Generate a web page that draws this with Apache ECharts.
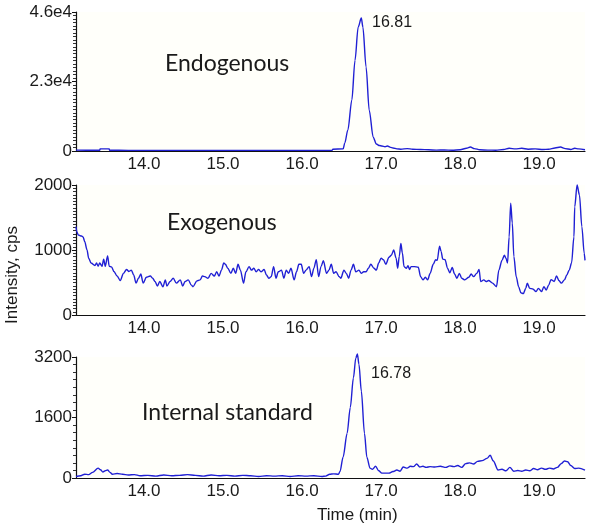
<!DOCTYPE html>
<html>
<head>
<meta charset="utf-8">
<script src="https://cdn.jsdelivr.net/npm/echarts@6/dist/echarts.min.js"></script>
<style>html,body{margin:0;padding:0;background:#fff}#c{width:600px;height:530px}</style>
</head>
<body>
<div id="c"></div>
<script>
// ---- Data ----
var xTickLabels = [14, 15, 16, 17, 18, 19];

// Endogenous (top panel)
var endoTime = [13.14,13.30,13.44,13.445,13.56,13.565,13.80,14.50,15.50,16.38,16.39,16.52,16.54,16.58,16.63,16.67,16.71,16.75,16.77,16.81,16.85,16.90,16.94,16.98,17.01,17.05,17.08,17.12,17.15,17.20,17.25,17.33,17.40,17.50,17.60,17.70,17.80,17.90,18.00,18.08,18.13,18.18,18.25,18.35,18.45,18.55,18.62,18.70,18.78,18.86,18.95,19.05,19.12,19.20,19.27,19.33,19.40,19.45,19.50,19.58];
var endoIntensity = [300,250,250,700,700,250,200,200,200,200,600,700,2600,7000,16900,30000,41000,44000,41000,27800,13500,4600,2300,1800,1650,1400,1650,1200,1000,700,600,800,600,500,400,300,350,250,400,900,1300,800,400,300,250,500,900,700,900,600,700,500,600,1000,1300,800,500,900,700,400];

// Exogenous (middle panel)
var exoTime = [13.14,13.15,13.17,13.21,13.23,13.25,13.28,13.30,13.33,13.38,13.40,13.42,13.44,13.47,13.49,13.51,13.54,13.56,13.59,13.62,13.66,13.70,13.74,13.78,13.81,13.84,13.87,13.90,13.93,13.96,13.99,14.03,14.08,14.11,14.14,14.17,14.20,14.24,14.27,14.29,14.33,14.37,14.41,14.46,14.49,14.52,14.56,14.60,14.62,14.67,14.71,14.74,14.77,14.81,14.85,14.89,14.92,14.95,14.98,15.01,15.03,15.06,15.10,15.13,15.16,15.19,15.22,15.26,15.29,15.33,15.36,15.39,15.42,15.45,15.48,15.52,15.55,15.58,15.61,15.64,15.67,15.70,15.74,15.77,15.80,15.83,15.86,15.90,15.93,15.96,15.99,16.02,16.05,16.09,16.12,16.15,16.18,16.21,16.24,16.27,16.31,16.34,16.37,16.40,16.43,16.47,16.49,16.53,16.56,16.59,16.62,16.65,16.68,16.72,16.75,16.78,16.81,16.84,16.87,16.91,16.94,16.97,17.00,17.03,17.06,17.10,17.13,17.16,17.19,17.21,17.23,17.25,17.27,17.29,17.32,17.34,17.36,17.38,17.42,17.47,17.50,17.53,17.56,17.59,17.62,17.66,17.69,17.71,17.74,17.76,17.78,17.81,17.84,17.87,17.90,17.93,17.96,17.99,18.02,18.06,18.11,18.14,18.17,18.21,18.24,18.26,18.30,18.33,18.36,18.41,18.46,18.49,18.53,18.56,18.58,18.60,18.62,18.64,18.66,18.68,18.71,18.74,18.77,18.80,18.83,18.85,18.88,18.92,18.96,18.99,19.03,19.06,19.09,19.12,19.15,19.19,19.22,19.25,19.28,19.32,19.35,19.38,19.41,19.44,19.45,19.48,19.51,19.54,19.57,19.58];
var exoIntensity = [1360,1280,1230,1215,1200,1130,1000,875,800,760,800,750,800,750,860,750,910,750,740,670,600,530,640,700,670,690,615,490,565,630,490,580,600,565,515,445,515,435,540,445,515,565,490,540,445,515,540,460,435,525,540,600,590,565,640,600,665,600,690,800,780,720,640,720,640,780,690,490,665,745,690,720,665,700,665,700,615,565,590,745,565,665,690,565,690,640,720,540,665,780,780,640,690,745,590,720,850,590,745,835,640,690,780,640,665,590,565,690,640,565,690,780,665,690,640,665,665,720,780,720,690,800,875,850,780,890,920,1000,875,720,900,1100,950,745,720,760,700,745,745,735,590,540,580,540,640,780,850,840,1060,975,860,850,720,650,730,630,565,640,565,540,580,630,590,640,700,515,540,515,530,490,435,690,840,920,875,800,1200,1720,1415,900,590,435,340,330,410,490,410,400,360,410,360,435,385,460,545,515,600,530,490,540,615,690,800,1200,1665,2000,1845,1360,950,840];

// Internal standard (bottom panel)
var isTime = [13.14,13.20,13.25,13.30,13.35,13.42,13.45,13.48,13.51,13.54,13.57,13.60,13.66,13.73,13.80,13.88,13.95,14.05,14.15,14.25,14.35,14.45,14.55,14.65,14.75,14.85,14.95,15.05,15.15,15.25,15.35,15.45,15.55,15.65,15.75,15.85,15.95,16.05,16.15,16.25,16.30,16.35,16.40,16.46,16.48,16.52,16.57,16.61,16.65,16.68,16.70,16.72,16.75,16.79,16.82,16.86,16.89,16.93,16.97,17.01,17.10,17.15,17.20,17.24,17.28,17.33,17.37,17.41,17.45,17.49,17.53,17.57,17.62,17.68,17.75,17.82,17.87,17.92,17.97,18.02,18.07,18.12,18.17,18.22,18.28,18.34,18.38,18.42,18.48,18.53,18.58,18.63,18.68,18.73,18.78,18.83,18.88,18.93,18.98,19.03,19.08,19.13,19.18,19.23,19.28,19.32,19.36,19.40,19.45,19.50,19.58];
var isIntensity = [40,60,100,90,150,260,220,160,190,210,150,100,120,100,80,90,60,70,50,80,60,70,90,70,50,80,60,70,50,70,60,40,60,50,60,40,60,50,60,40,50,100,110,100,170,560,1180,1860,2650,3170,3280,3010,2300,1180,550,260,230,310,190,130,130,170,210,180,290,260,310,300,370,290,310,280,300,290,310,280,320,300,330,280,380,400,370,440,460,520,600,450,210,230,190,280,180,200,180,210,190,250,220,260,230,260,240,280,380,450,430,330,250,260,210];

// ---- Chart ----
function pairs(t, v) { return t.map(function (x, i) { return [x, v[i]]; }); }

var FONT = "'Liberation Sans', Arial, sans-serif";
var LINE = '#2020d4';
var grids = [
  { left: 76, right: 15, top: 12, height: 139 },
  { left: 76, right: 15, top: 185, height: 130 },
  { left: 76, right: 15, top: 357, height: 121 }
];
grids.forEach(function (g) { g.show = true; g.backgroundColor = '#fffffa'; g.borderWidth = 0; });

function xAxis(i) {
  return {
    type: 'value', gridIndex: i, min: 13.14, max: 19.58,
    axisLine: { show: true, onZero: false, lineStyle: { color: '#111', width: 1.2 } },
    axisTick: { show: false },
    splitLine: { show: false },
    axisLabel: { customValues: xTickLabels, formatter: function (v) { return v.toFixed(1); },
      fontFamily: FONT, fontSize: 17, color: '#1a1a1a', margin: 5 }
  };
}
function yAxis(i, max, interval, minorSplit, fmt) {
  return {
    type: 'value', gridIndex: i, min: 0, max: max, interval: interval,
    axisLine: { show: true, lineStyle: { color: '#111', width: 1.2 } },
    axisTick: { show: true, length: 4, lineStyle: { color: '#111' } },
    minorTick: { show: true, splitNumber: minorSplit, length: 3, lineStyle: { color: '#333' } },
    splitLine: { show: false },
    minorSplitLine: { show: false },
    axisLabel: { formatter: fmt, fontFamily: FONT, fontSize: 17, color: '#1a1a1a', margin: 4 }
  };
}

var option = {
  animation: false,
  backgroundColor: '#ffffff',
  grid: grids,
  xAxis: [xAxis(0), xAxis(1), xAxis(2)],
  yAxis: [
    yAxis(0, 46000, 23000, 20, function (v) { return v === 0 ? '0' : (v / 10000).toFixed(1) + 'e4'; }),
    yAxis(1, 2000, 1000, 20, function (v) { return String(v); }),
    yAxis(2, 3200, 1600, 8, function (v) { return String(v); })
  ],
  series: [
    { type: 'line', xAxisIndex: 0, yAxisIndex: 0, data: pairs(endoTime, endoIntensity), showSymbol: false, symbol: 'none',
      smooth: 0.3, smoothMonotone: 'x', clip: false, lineStyle: { color: LINE, width: 1.4 } },
    { type: 'line', xAxisIndex: 1, yAxisIndex: 1, data: pairs(exoTime, exoIntensity), showSymbol: false, symbol: 'none',
      smooth: 0.3, smoothMonotone: 'x', clip: false, lineStyle: { color: LINE, width: 1.4 } },
    { type: 'line', xAxisIndex: 2, yAxisIndex: 2, data: pairs(isTime, isIntensity), showSymbol: false, symbol: 'none',
      smooth: 0.3, smoothMonotone: 'x', clip: false, lineStyle: { color: LINE, width: 1.4 } }
  ],
  graphic: [
    { type: 'text', left: 165, top: 52, style: { text: 'Endogenous', font: "23px Lato, 'Open Sans', sans-serif", fill: '#1a1a1a' } },
    { type: 'text', left: 167, top: 211, style: { text: 'Exogenous', font: "23px Lato, 'Open Sans', sans-serif", fill: '#1a1a1a' } },
    { type: 'text', left: 142, top: 401, style: { text: 'Internal standard', font: "23px Lato, 'Open Sans', sans-serif", fill: '#1a1a1a' } },
    { type: 'text', left: 372, top: 15, style: { text: '16.81', font: "16px 'Liberation Sans', Arial, sans-serif", fill: '#1a1a1a' } },
    { type: 'text', left: 371, top: 366, style: { text: '16.78', font: "16px 'Liberation Sans', Arial, sans-serif", fill: '#1a1a1a' } },
    { type: 'text', left: 317, top: 507, style: { text: 'Time (min)', font: "17px 'Liberation Sans', Arial, sans-serif", fill: '#1a1a1a' } },
    { type: 'text', x: 12, y: 275, rotation: Math.PI / 2,
      style: { text: 'Intensity, cps', font: "17px 'Liberation Sans', Arial, sans-serif", fill: '#1a1a1a', align: 'center', verticalAlign: 'middle' } }
  ]
};
var chart = echarts.init(document.getElementById('c'), null, { renderer: 'canvas' });
chart.setOption(option);
</script>
</body>
</html>
